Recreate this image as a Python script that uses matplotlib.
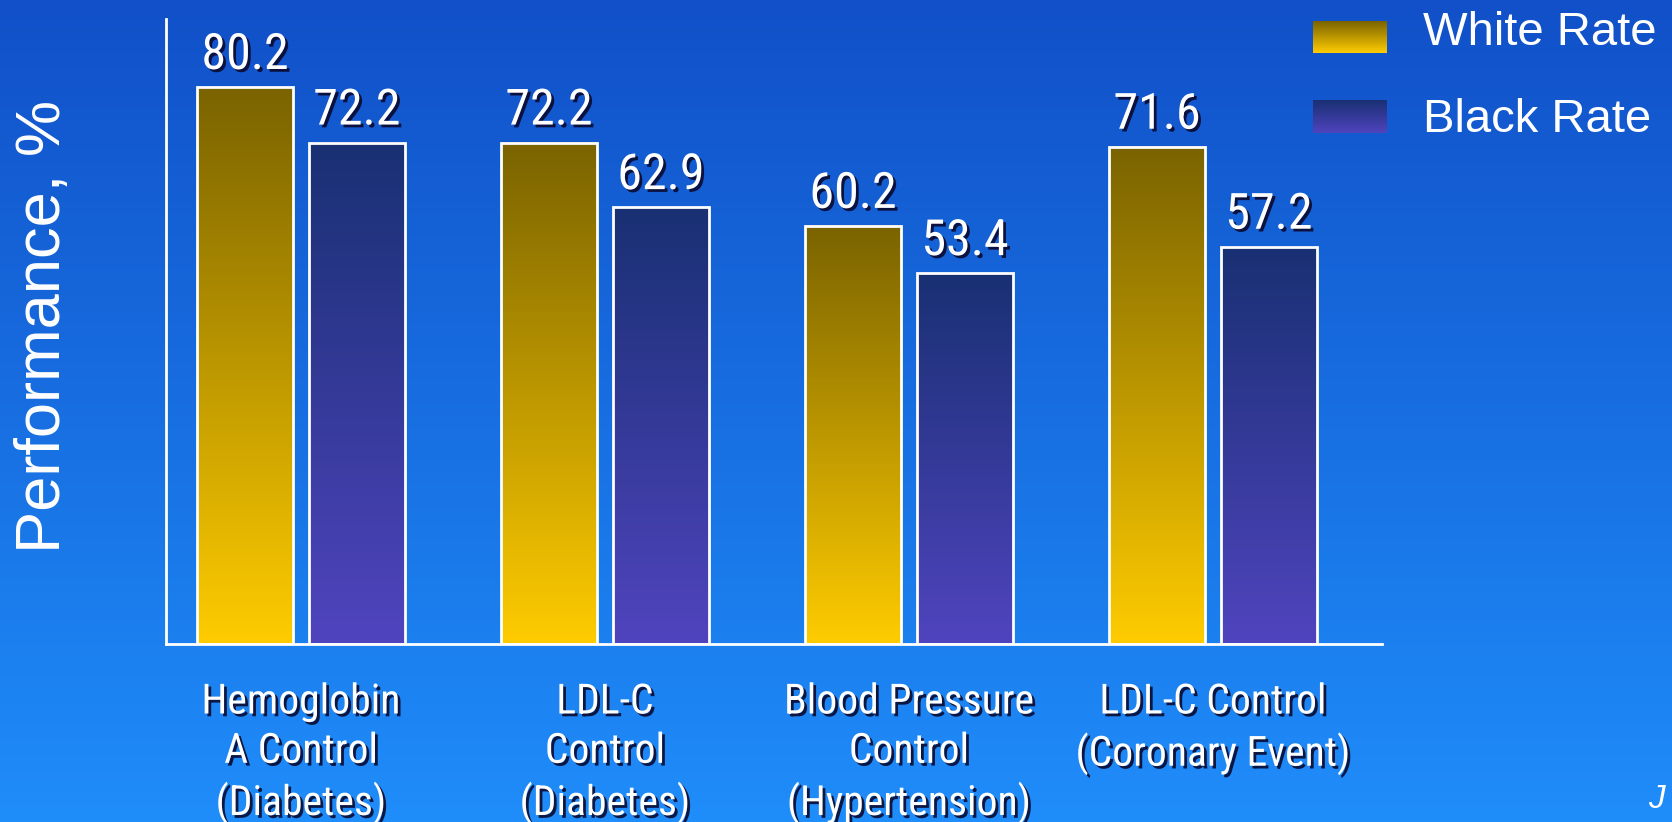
import numpy as np
import matplotlib
matplotlib.use('Agg')
import matplotlib.pyplot as plt
from matplotlib import font_manager as fm
import matplotlib.patheffects as pe
from matplotlib.colors import LinearSegmentedColormap

# ---- data ----
categories = ["Hemoglobin\nA Control\n(Diabetes)",
              "LDL-C\nControl\n(Diabetes)",
              "Blood Pressure\nControl\n(Hypertension)",
              "LDL-C Control\n(Coronary Event)"]
white_rate = [80.2, 72.2, 60.2, 71.6]
black_rate = [72.2, 62.9, 53.4, 57.2]
series_labels = ["White Rate", "Black Rate"]
y_label = "Performance, %"
corner_text = "J"

# ---- fonts ----
names = {f.name for f in fm.fontManager.ttflist}
narrow = next((n for n in ['Roboto Condensed', 'Liberation Sans Narrow', 'PT Sans Narrow',
                           'Archivo Narrow'] if n in names), 'DejaVu Sans')
regular = 'Liberation Sans' if 'Liberation Sans' in names else 'DejaVu Sans'

W, H = 1672, 822
fig = plt.figure(figsize=(W / 100, H / 100), dpi=100)

# background gradient
bg = fig.add_axes([0, 0, 1, 1], zorder=-10)
bg_cmap = LinearSegmentedColormap.from_list('bg', ['#1F8DFA', '#1150C8'])
bg.imshow(np.linspace(0, 1, 256).reshape(-1, 1), cmap=bg_cmap, aspect='auto',
          origin='lower', extent=[0, 1, 0, 1])
bg.set_axis_off()

white_cmap = LinearSegmentedColormap.from_list('w', ['#FFCC00', '#7A6300'])
black_cmap = LinearSegmentedColormap.from_list('b', ['#5044BE', '#193073'])

ax = fig.add_axes([166 / W, 1 - 644 / H, (1382 - 166) / W, (644 - 19) / H])
ax.set_facecolor('none')

x = np.arange(len(categories))
bw = 0.316
off = 0.184
shadow = [pe.withSimplePatchShadow(offset=(2, -2), shadow_rgbFace='#0A0A30', alpha=0.9)]

grad = np.linspace(0, 1, 256).reshape(-1, 1)
for vals, sign, cmap in [(white_rate, -1, white_cmap), (black_rate, 1, black_cmap)]:
    bars = ax.bar(x + sign * off, vals, bw, facecolor='none', edgecolor='white',
                  linewidth=2, zorder=3)
    for rect, v in zip(bars, vals):
        x0 = rect.get_x()
        ax.imshow(grad, cmap=cmap, aspect='auto', origin='lower',
                  extent=[x0, x0 + rect.get_width(), 0, rect.get_height()], zorder=2)
        ax.annotate(f"{v:.1f}", xy=(x0 + rect.get_width() / 2, rect.get_height()),
                    xytext=(0, 13), textcoords='offset points', ha='center',
                    va='baseline', color='white', fontsize=36, family=narrow,
                    path_effects=shadow, zorder=4)

ax.set_xlim(-0.444, 3.556)
ax.set_ylim(0, 90)
ax.set_yticks([])
ax.set_xticks(x)
ax.set_xticklabels(categories, color='white', fontsize=30, family=narrow,
                   linespacing=1.26)
for t in ax.get_xticklabels():
    t.set_path_effects(shadow)
ax.tick_params(axis='x', length=0, pad=27)
for s in ['top', 'right']:
    ax.spines[s].set_visible(False)
for s in ['left', 'bottom']:
    ax.spines[s].set_color('white')
    ax.spines[s].set_linewidth(2)

# y label
fig.text(44 / W, 1 - 326 / H, y_label, rotation=90, ha='center', va='center',
         color='white', fontsize=45.5, family=regular)

# legend
patch_specs = [(21, 53, white_cmap), (100, 133, black_cmap)]
baselines = [45, 132]
for (t, b, cmap), lab, bl in zip(patch_specs, series_labels, baselines):
    pax = fig.add_axes([1313 / W, 1 - b / H, 74 / W, (b - t) / H])
    pax.imshow(grad, cmap=cmap, aspect='auto', origin='lower', extent=[0, 1, 0, 1])
    pax.set_axis_off()
    fig.text(1423 / W, 1 - bl / H, lab, ha='left', va='baseline', color='white',
             fontsize=34, family=regular)

fig.text(1648 / W, 1 - 808 / H, corner_text, ha='left', va='baseline', color='white',
         fontsize=24, family=regular, style='italic')

fig.savefig('out.png', dpi=100)
